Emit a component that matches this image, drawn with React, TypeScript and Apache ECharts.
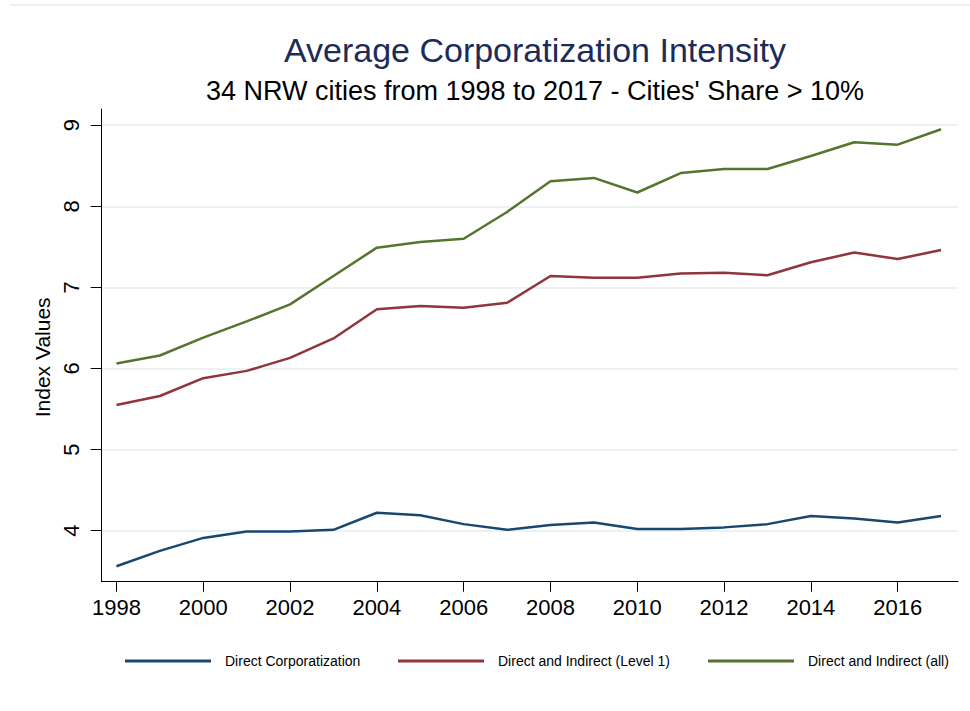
import React, { useEffect, useRef } from "react";
import * as echarts from "echarts";

const years = [1998, 1999, 2000, 2001, 2002, 2003, 2004, 2005, 2006, 2007, 2008, 2009, 2010, 2011, 2012, 2013, 2014, 2015, 2016, 2017];
const directCorp = [3.56, 3.75, 3.91, 3.99, 3.99, 4.01, 4.22, 4.19, 4.08, 4.01, 4.07, 4.10, 4.02, 4.02, 4.04, 4.08, 4.18, 4.15, 4.10, 4.18];
const directIndirectL1 = [5.55, 5.66, 5.88, 5.97, 6.13, 6.37, 6.73, 6.77, 6.75, 6.81, 7.14, 7.12, 7.12, 7.17, 7.18, 7.15, 7.31, 7.43, 7.35, 7.46];
const directIndirectAll = [6.06, 6.16, 6.38, 6.58, 6.79, 7.14, 7.49, 7.56, 7.60, 7.93, 8.31, 8.35, 8.17, 8.41, 8.46, 8.46, 8.62, 8.79, 8.76, 8.95];
const seriesNames = ["Direct Corporatization", "Direct and Indirect (Level 1)", "Direct and Indirect (all)"];
const seriesColors = ["#1a476f", "#90353b", "#55752f"];
const xTicks = [1998, 2000, 2002, 2004, 2006, 2008, 2010, 2012, 2014, 2016];
const yTicks = [4, 5, 6, 7, 8, 9];
const titleText = "Average Corporatization Intensity";
const subtitleText = "34 NRW cities from 1998 to 2017 - Cities' Share > 10%";
const yAxisName = "Index Values";

const FONT = "'Liberation Sans', Arial, sans-serif";

export default function App() {
  const ref = useRef<HTMLDivElement>(null);
  useEffect(() => {
    if (!ref.current) return;
    const chart = echarts.init(ref.current, null, { renderer: "svg" });
    const allSeries = [directCorp, directIndirectL1, directIndirectAll];
    const legendLefts = [120, 393, 703];
    const option: any = {
      animation: false,
      backgroundColor: "#ffffff",
      textStyle: { fontFamily: FONT },
      title: [
        {
          text: titleText,
          left: 530,
          textAlign: "center",
          top: 28,
          textStyle: { fontFamily: FONT, fontSize: 34, fontWeight: "normal", color: "#1c2b59" },
        },
        {
          text: subtitleText,
          left: 530,
          textAlign: "center",
          top: 72,
          textStyle: { fontFamily: FONT, fontSize: 27, fontWeight: "normal", color: "#000000" },
        },
      ],
      grid: { left: 101.7, right: 12, top: 109, bottom: 129.3, containLabel: false },
      xAxis: {
        type: "value",
        min: 1997.66,
        max: 2017.39,
        axisLine: { show: true, onZero: false, lineStyle: { color: "#000", width: 1 } },
        axisTick: { show: true, length: 10, customValues: xTicks, lineStyle: { color: "#000", width: 1 } },
        axisLabel: {
          customValues: xTicks,
          margin: 15,
          fontSize: 22,
          color: "#000",
          fontFamily: FONT,
          formatter: (v: number) => String(v),
        },
        splitLine: { show: false },
      },
      yAxis: {
        type: "value",
        min: 3.37,
        max: 9.2,
        name: yAxisName,
        nameLocation: "middle",
        nameGap: 43,
        nameRotate: 90,
        nameTextStyle: { fontSize: 21, color: "#000", fontFamily: FONT, padding: [0, 24, 0, 0] },
        axisLine: { show: true, lineStyle: { color: "#000", width: 1 } },
        axisTick: { show: true, length: 11, customValues: yTicks, lineStyle: { color: "#000", width: 1 } },
        axisLabel: {
          customValues: yTicks,
          rotate: 90,
          margin: 19,
          fontSize: 22,
          color: "#000",
          fontFamily: FONT,
          formatter: (v: number) => String(v),
        },
        splitLine: { show: true, lineStyle: { color: "#eaf2f3", width: 2 } },
      },
      legend: seriesNames.map((name, i) => ({
        data: [name],
        left: legendLefts[i],
        top: 649,
        icon: "rect",
        itemWidth: 86,
        itemHeight: 3,
        textStyle: { fontSize: 14, color: "#000", fontFamily: FONT, padding: [0, 0, 0, 9] },
        selectedMode: false,
      })),
      graphic: [
        {
          type: "line",
          shape: { x1: 10, y1: 5, x2: 970, y2: 5 },
          style: { stroke: "#e6eaee", lineWidth: 1.5 },
          silent: true,
        },
      ],
      series: allSeries.map((vals, i) => ({
        name: seriesNames[i],
        type: "line",
        symbol: "none",
        data: years.map((y, j) => [y, vals[j]]),
        lineStyle: { color: seriesColors[i], width: 2.5 },
        itemStyle: { color: seriesColors[i] },
      })),
    };
    chart.setOption(option);
    return () => chart.dispose();
  }, []);
  return (
    <div
      ref={ref}
      style={{ position: "fixed", left: 0, top: 0, width: 970, height: 711, background: "#fff" }}
    />
  );
}
